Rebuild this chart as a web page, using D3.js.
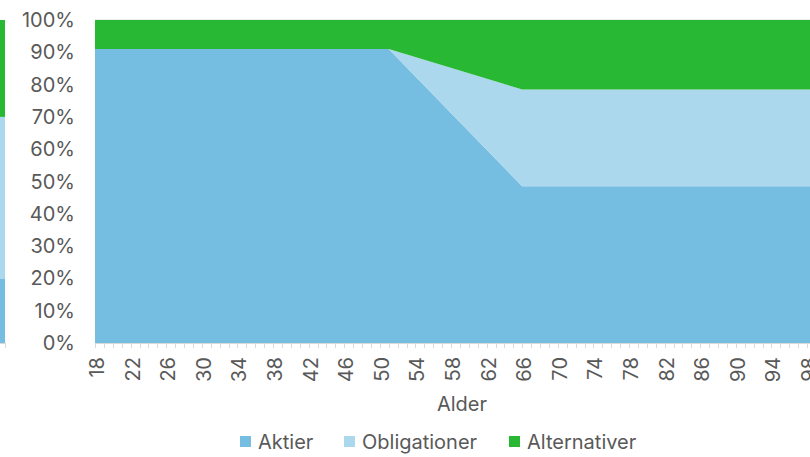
<!DOCTYPE html>
<html>
<head>
<meta charset="utf-8">
<script src="https://cdn.jsdelivr.net/npm/d3@7"></script>
<style>
  body { margin: 0; background: #fff; }
  svg { display: block; font-family: Inter, "Noto Sans", sans-serif; }
</style>
</head>
<body>
<div id="chart"></div>
<script>
// data
const seriesNames = ["Aktier", "Obligationer", "Alternativer"];
const seriesColors = ["#75bee1", "#abd8ed", "#29b833"];
const ages = [18, 51, 66, 100];
const aktier = [91, 91, 48.5, 48.5];
const obligationer = [0, 0, 30, 30];
const alternativer = [9, 9, 21.5, 21.5];
// cut-off bar from the neighbouring chart at the left edge
const leftBar = [20, 50, 30];
const yTicks = [0, 10, 20, 30, 40, 50, 60, 70, 80, 90, 100];
const xLabelTicks = d3.range(18, 99, 4);
const xMinorTicks = d3.range(18, 101, 1);

(function(){
  const svgWidth = 810, svgHeight = 457;
  const svg = d3.select("#chart").append("svg")
    .attr("width", svgWidth).attr("height", svgHeight);

  const x = d3.scaleLinear().domain([18, 100]).range([95, 95 + 82 * 8.9]);
  const y = d3.scaleLinear().domain([0, 100]).range([343, 20]);

  // gridlines
  svg.append("g").selectAll("line").data(yTicks).join("line")
    .attr("x1", 95).attr("x2", svgWidth)
    .attr("y1", d => y(d)).attr("y2", d => y(d))
    .attr("stroke", "#d9d9d9").attr("stroke-width", 1);

  // stacked areas
  const rows = ages.map((a, i) => ({
    age: a, Aktier: aktier[i], Obligationer: obligationer[i], Alternativer: alternativer[i]
  }));
  const stacked = d3.stack().keys(seriesNames)(rows);
  const area = d3.area()
    .x(d => x(d.data.age))
    .y0(d => y(d[0]))
    .y1(d => y(d[1]));
  svg.append("g").selectAll("path").data(stacked).join("path")
    .attr("d", area)
    .attr("fill", (d, i) => seriesColors[i]);

  // partial bar on the left
  let acc = 0;
  leftBar.forEach(function(v, i){
    svg.append("rect")
      .attr("x", 0).attr("width", 5)
      .attr("y", y(acc + v)).attr("height", y(acc) - y(acc + v))
      .attr("fill", seriesColors[i]);
    acc += v;
  });
  svg.append("line").attr("x1", 0).attr("x2", 6).attr("y1", 343.5).attr("y2", 343.5)
    .attr("stroke", "#d9d9d9");
  svg.append("line").attr("x1", 5.5).attr("x2", 5.5).attr("y1", 343).attr("y2", 348)
    .attr("stroke", "#d9d9d9");

  // x axis line and ticks
  svg.append("line").attr("x1", 95).attr("x2", svgWidth).attr("y1", 343.5).attr("y2", 343.5)
    .attr("stroke", "#d9d9d9");
  svg.append("g").selectAll("line").data(xMinorTicks).join("line")
    .attr("x1", d => Math.round(x(d)) + 0.5).attr("x2", d => Math.round(x(d)) + 0.5)
    .attr("y1", 343).attr("y2", 348)
    .attr("stroke", "#d9d9d9");

  // y tick labels
  svg.append("g").selectAll("text").data(yTicks).join("text")
    .attr("x", 75).attr("y", d => y(d))
    .attr("dy", "0.35em")
    .attr("text-anchor", "end")
    .attr("font-size", 20).attr("fill", "#595959")
    .text(d => d + "%");

  // x tick labels, rotated
  svg.append("g").selectAll("text").data(xLabelTicks).join("text")
    .attr("transform", d => `translate(${x(d) + 2}, 357) rotate(-90)`)
    .attr("dy", "0.35em")
    .attr("text-anchor", "end")
    .attr("font-size", 20).attr("fill", "#595959")
    .text(d => d);

  // axis title
  svg.append("text")
    .attr("x", 462).attr("y", 411)
    .attr("text-anchor", "middle")
    .attr("font-size", 20).attr("fill", "#595959")
    .text("Alder");

  // legend
  const legendX = [240, 344, 509];
  seriesNames.forEach(function(name, i){
    svg.append("rect")
      .attr("x", legendX[i]).attr("y", 436).attr("width", 11).attr("height", 11)
      .attr("fill", seriesColors[i]);
    svg.append("text")
      .attr("x", legendX[i] + 18).attr("y", 441.5)
      .attr("dy", "0.35em")
      .attr("font-size", 20).attr("fill", "#595959")
      .text(name);
  });
})();
</script>
</body>
</html>
